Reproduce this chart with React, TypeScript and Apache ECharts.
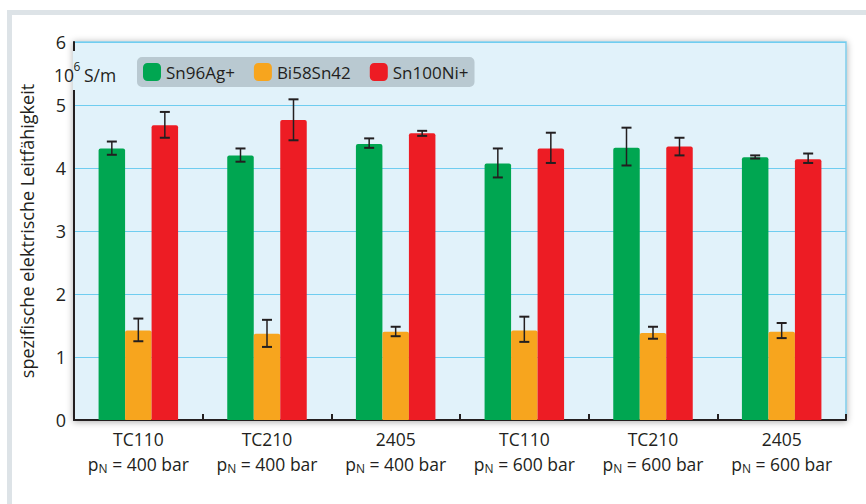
import React, { useEffect, useRef } from "react";
import * as echarts from "echarts";

const categories = ["TC110", "TC210", "2405", "TC110", "TC210", "2405"];
const pressures = ["400", "400", "400", "600", "600", "600"];
const seriesNames = ["Sn96Ag+", "Bi58Sn42", "Sn100Ni+"];
const sn96 = [4.31, 4.2, 4.38, 4.07, 4.32, 4.17];
const sn96Err = [[4.21, 4.42], [4.1, 4.31], [4.32, 4.47], [3.85, 4.31], [4.04, 4.64], [4.15, 4.2]];
const bi58 = [1.42, 1.37, 1.4, 1.42, 1.38, 1.4];
const bi58Err = [[1.25, 1.61], [1.16, 1.59], [1.33, 1.48], [1.24, 1.64], [1.29, 1.48], [1.3, 1.54]];
const sn100 = [4.68, 4.76, 4.55, 4.31, 4.34, 4.14];
const sn100Err = [[4.48, 4.89], [4.44, 5.09], [4.51, 4.59], [4.08, 4.56], [4.2, 4.48], [4.08, 4.23]];
const yTicks = [0, 1, 2, 3, 4, 5, 6];

const FONT = "'Open Sans', sans-serif";
const TXT = "#231f20";
const COLORS = ["#00a651", "#f7a51e", "#ed1c24"];
const BAR_W = 26.5;
const PLOT_BG = "#e1f2fa";

function errorSeries(errs: number[][], offsetIdx: number) {
  return {
    type: "custom",
    coordinateSystem: "cartesian2d",
    silent: true,
    z: 5,
    data: errs.map((e, i) => [i, e[0], e[1]]),
    encode: { x: 0, y: [1, 2] },
    renderItem: (params: any, api: any) => {
      const i = api.value(0);
      const lo = api.coord([i, api.value(1)]);
      const hi = api.coord([i, api.value(2)]);
      const x = lo[0] + offsetIdx * BAR_W;
      const hw = 5;
      const st = { stroke: TXT, lineWidth: 2 };
      return {
        type: "group",
        children: [
          { type: "line", shape: { x1: x, y1: lo[1], x2: x, y2: hi[1] }, style: { stroke: TXT, lineWidth: 1.5 } },
          { type: "line", shape: { x1: x - hw, y1: lo[1], x2: x + hw, y2: lo[1] }, style: st },
          { type: "line", shape: { x1: x - hw, y1: hi[1], x2: x + hw, y2: hi[1] }, style: st },
        ],
      };
    },
  };
}

export default function App() {
  const ref = useRef<HTMLDivElement>(null);
  useEffect(() => {
    const chart = echarts.init(ref.current!, undefined, { renderer: "svg" });
    const xLabels = categories.map((c, i) => c + "|" + pressures[i]);
    const barData = [sn96, bi58, sn100];
    chart.setOption({
      animation: false,
      textStyle: { fontFamily: FONT },
      graphic: [
        { type: "rect", shape: { x: 7, y: 10, width: 859, height: 5 }, style: { fill: "#dde3e7" }, z: 0 },
        { type: "rect", shape: { x: 7, y: 10, width: 5, height: 494 }, style: { fill: "#dde3e7" }, z: 0 },
        { type: "rect", shape: { x: 72.8, y: 51, width: 2.6, height: 39 }, style: { fill: PLOT_BG }, z: 100 },
        { type: "text", x: 54, y: 75, z: 101, style: { text: "10", fontSize: 17.5, fontFamily: FONT, fill: TXT, verticalAlign: "middle" } },
        { type: "text", x: 73.5, y: 66, z: 101, style: { text: "6", fontSize: 12, fontFamily: FONT, fill: TXT, verticalAlign: "middle" } },
        { type: "text", x: 84, y: 75, z: 101, style: { text: "S/m", fontSize: 17.5, fontFamily: FONT, fill: TXT, verticalAlign: "middle" } },
      ],
      legend: {
        left: 137,
        top: 57,
        data: seriesNames,
        icon: "roundRect",
        itemWidth: 18,
        itemHeight: 18,
        itemGap: 19,
        padding: [6, 6, 6, 6],
        backgroundColor: "#b9c9d1",
        borderRadius: 5,
        textStyle: { fontSize: 17, color: TXT, fontFamily: FONT },
      },
      grid: {
        left: 74,
        top: 42,
        right: 20,
        bottom: 84,
        show: true,
        backgroundColor: PLOT_BG,
        borderColor: "#80cdea",
        borderWidth: 1.5,
        shadowBlur: 7,
        shadowColor: "rgba(0,0,0,0.35)",
        shadowOffsetX: 0,
        shadowOffsetY: 1,
      },
      xAxis: {
        type: "category",
        data: xLabels,
        axisLine: { lineStyle: { color: TXT, width: 2 } },
        axisTick: { show: true, inside: true, length: 6, lineStyle: { color: TXT, width: 2 } },
        axisLabel: {
          interval: 0,
          margin: 6,
          color: TXT,
          align: "center",
          formatter: (v: string) => {
            const [c, p] = v.split("|");
            return `{a|${c}}\n{b|p}{s|N}{b| = ${p} bar}`;
          },
          rich: {
            a: { fontSize: 17.5, lineHeight: 25, fontFamily: FONT, color: TXT, align: "center" },
            b: { fontSize: 17.5, lineHeight: 25, fontFamily: FONT, color: TXT, align: "center" },
            s: { fontSize: 12, lineHeight: 25, fontFamily: FONT, color: TXT, align: "center", padding: [10, 0, 0, 0] },
          },
        },
      },
      yAxis: {
        type: "value",
        min: yTicks[0],
        max: yTicks[yTicks.length - 1],
        interval: 1,
        name: "spezifische elektrische Leitfähigkeit",
        nameLocation: "middle",
        nameRotate: 90,
        nameGap: 38,
        nameTextStyle: { fontSize: 18, color: TXT, fontFamily: FONT },
        axisLine: { show: true, lineStyle: { color: TXT, width: 2 } },
        axisTick: { show: false },
        axisLabel: { fontSize: 18, color: TXT, margin: 8, fontFamily: FONT },
        splitLine: { lineStyle: { color: "#6fcdf0", width: 1.2 } },
      },
      series: [
        ...seriesNames.map((n, k) => ({
          name: n,
          type: "bar",
          data: barData[k],
          barWidth: BAR_W,
          barGap: "0%",
          itemStyle: { color: COLORS[k], borderRadius: [2, 2, 0, 0] },
        })),
        errorSeries(sn96Err, -1),
        errorSeries(bi58Err, 0),
        errorSeries(sn100Err, 1),
      ],
    });
    return () => chart.dispose();
  }, []);
  return <div ref={ref} style={{ position: "absolute", left: 0, top: 0, width: 866, height: 504, background: "#fff" }} />;
}
